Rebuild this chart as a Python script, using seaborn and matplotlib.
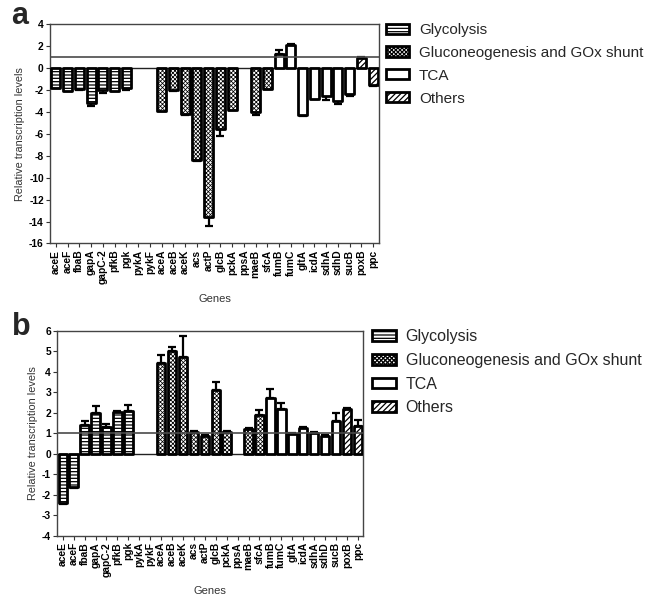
import numpy as np
import pandas as pd
import matplotlib
matplotlib.use("Agg")
import matplotlib.pyplot as plt
from matplotlib.patches import Patch
import seaborn as sns

sns.set_style("white")
plt.rcParams["font.family"] = ["Liberation Sans", "DejaVu Sans"]
plt.rcParams["hatch.linewidth"] = 0.9
plt.rcParams["hatch.color"] = "black"

genes = ["aceE", "aceF", "fbaB", "gapA", "gapC-2", "pfkB", "pgk", "pykA", "pykF",
         "aceA", "aceB", "aceK", "acs", "actP", "glcB", "pckA", "ppsA", "maeB",
         "sfcA", "fumB", "fumC", "gltA", "icdA", "sdhA", "sdhD", "sucB", "poxB", "ppc"]

pathway = ["Glycolysis"] * 9 + ["Gluconeogenesis and GOx shunt"] * 10 + ["TCA"] * 7 + ["Others"] * 2
pathways = ["Glycolysis", "Gluconeogenesis and GOx shunt", "TCA", "Others"]

# panel a: relative transcription levels and SEM (nan = not detected)
level_a = [-1.8, -2.1, -1.95, -3.2, -2.0, -2.1, -1.85, np.nan, np.nan,
           -3.9, -2.0, -4.2, -8.4, -13.6, -5.6, -3.8, np.nan, -4.05,
           -1.9, 1.3, 2.1, -4.3, -2.8, -2.6, -3.0, -2.4, 0.9, -1.6]
err_a = [0.05, 0.05, 0.05, 0.25, 0.25, 0.05, 0.2, np.nan, np.nan,
         0.05, 0.1, 0.1, 0.1, 0.8, 0.6, 0.05, np.nan, 0.25,
         0.05, 0.3, 0.05, 0.05, 0.05, 0.35, 0.3, 0.2, 0.05, 0.05]

# panel b
level_b = [-2.4, -1.6, 1.4, 2.0, 1.3, 2.05, 2.1, np.nan, np.nan,
           4.45, 5.0, 4.75, 1.05, 0.85, 3.1, 1.05, np.nan, 1.2,
           1.9, 2.75, 2.2, 0.97, 1.25, 1.0, 0.88, 1.6, 2.2, 1.35]
err_b = [0.05, 0.05, 0.2, 0.33, 0.17, 0.05, 0.3, np.nan, np.nan,
         0.37, 0.2, 1.0, 0.05, 0.05, 0.42, 0.05, np.nan, 0.05,
         0.25, 0.4, 0.3, 0.05, 0.05, 0.05, 0.05, 0.37, 0.05, 0.3]

hatches = {"Glycolysis": "-----",
           "Gluconeogenesis and GOx shunt": "xxxxxxxx",
           "TCA": "",
           "Others": "//////"}
hatch_lw = {"Glycolysis": 0.9,
            "Gluconeogenesis and GOx shunt": 0.55,
            "TCA": 0.9,
            "Others": 0.9}

EDGE_LW = 2.0
TICK_FONT = dict(fontsize=7.4, fontweight="bold")


def style_patch(p, name):
    p.set_hatch(hatches[name])
    p.set_joinstyle("round")
    if hasattr(p, "set_hatch_linewidth"):
        p.set_hatch_linewidth(hatch_lw[name])


def panel(ax, levels, errs, yticks):
    df = pd.DataFrame({"gene": genes, "level": levels, "err": errs, "pathway": pathway})
    df_drawn = df.dropna(subset=["level"])
    sns.barplot(data=df_drawn, x="gene", y="level", hue="pathway", order=genes,
                hue_order=pathways, dodge=False, errorbar=None, width=0.78,
                palette={p: "white" for p in pathways}, edgecolor="black",
                linewidth=EDGE_LW, legend=False, ax=ax, zorder=3)
    # pattern each bar after the pathway of the gene it sits on
    for bar in ax.patches:
        idx = int(round(bar.get_x() + bar.get_width() / 2))
        style_patch(bar, pathway[idx])

    # one-sided error bars pointing away from zero
    pos = np.array([genes.index(g) for g in df_drawn["gene"]])
    lv = df_drawn["level"].to_numpy()
    er = df_drawn["err"].to_numpy()
    lower = np.where(lv < 0, er, 0)
    upper = np.where(lv >= 0, er, 0)
    ax.errorbar(pos, lv, yerr=[lower, upper], fmt="none", ecolor="black",
                elinewidth=1.6, capsize=2.6, capthick=1.6, zorder=2)

    ax.axhline(1, color="#4a4a4a", lw=1.2, zorder=4)
    ax.axhline(0, color="#222222", lw=1.0, zorder=2)

    ax.set_xlim(-0.5, len(genes) - 0.5)
    ax.set_ylim(yticks[0], yticks[-1])
    ax.set_yticks(yticks)
    ax.set_yticklabels([str(t) for t in yticks], **TICK_FONT)
    ax.set_xticks(range(len(genes)))
    ax.set_xticklabels(genes, rotation=90, **TICK_FONT)
    ax.tick_params(axis="both", direction="out", length=3, width=0.8,
                   colors="#333333", pad=1.5, bottom=True, left=True)
    for lab in ax.get_xticklabels() + ax.get_yticklabels():
        lab.set_color("black")
    for sp in ax.spines.values():
        sp.set_color("#444444")
        sp.set_linewidth(1.0)
    ax.set_xlabel("Genes", fontsize=8, color="#333333", labelpad=7)
    ax.set_ylabel("Relative transcription levels", fontsize=7.8, color="#333333", labelpad=3)


fig = plt.figure(figsize=(6.63, 5.99), dpi=100)
W, H = 663, 599
ax_a = fig.add_axes([50 / W, 1 - 243.5 / H, (379 - 50) / W, (243.5 - 24) / H])
ax_b = fig.add_axes([57.3 / W, 1 - 535.7 / H, (363.3 - 57.3) / W, (535.7 - 331) / H])

panel(ax_a, level_a, err_a, list(range(-16, 5, 2)))
panel(ax_b, level_b, err_b, list(range(-4, 7, 1)))

fig.text(11 / W, 1 - 24 / H, "a", fontsize=22, fontweight="bold")
fig.text(12 / W, 1 - 335 / H, "b", fontsize=22, fontweight="bold")


def legend_handles():
    handles = []
    for p in pathways:
        h = Patch(facecolor="white", edgecolor="black", linewidth=EDGE_LW, label=p)
        style_patch(h, p)
        handles.append(h)
    return handles


fig.legend(handles=legend_handles(), loc="upper left",
           bbox_to_anchor=(386 / W, 1 - 23 / H), frameon=False, fontsize=11,
           handlelength=1.5, handleheight=0.65, handletextpad=0.65,
           labelspacing=0.58, borderpad=0, borderaxespad=0)
fig.legend(handles=legend_handles(), loc="upper left",
           bbox_to_anchor=(372 / W, 1 - 329 / H), frameon=False, fontsize=11.5,
           handlelength=1.5, handleheight=0.65, handletextpad=0.6,
           labelspacing=0.55, borderpad=0, borderaxespad=0)

fig.savefig("out.png", dpi=100)
